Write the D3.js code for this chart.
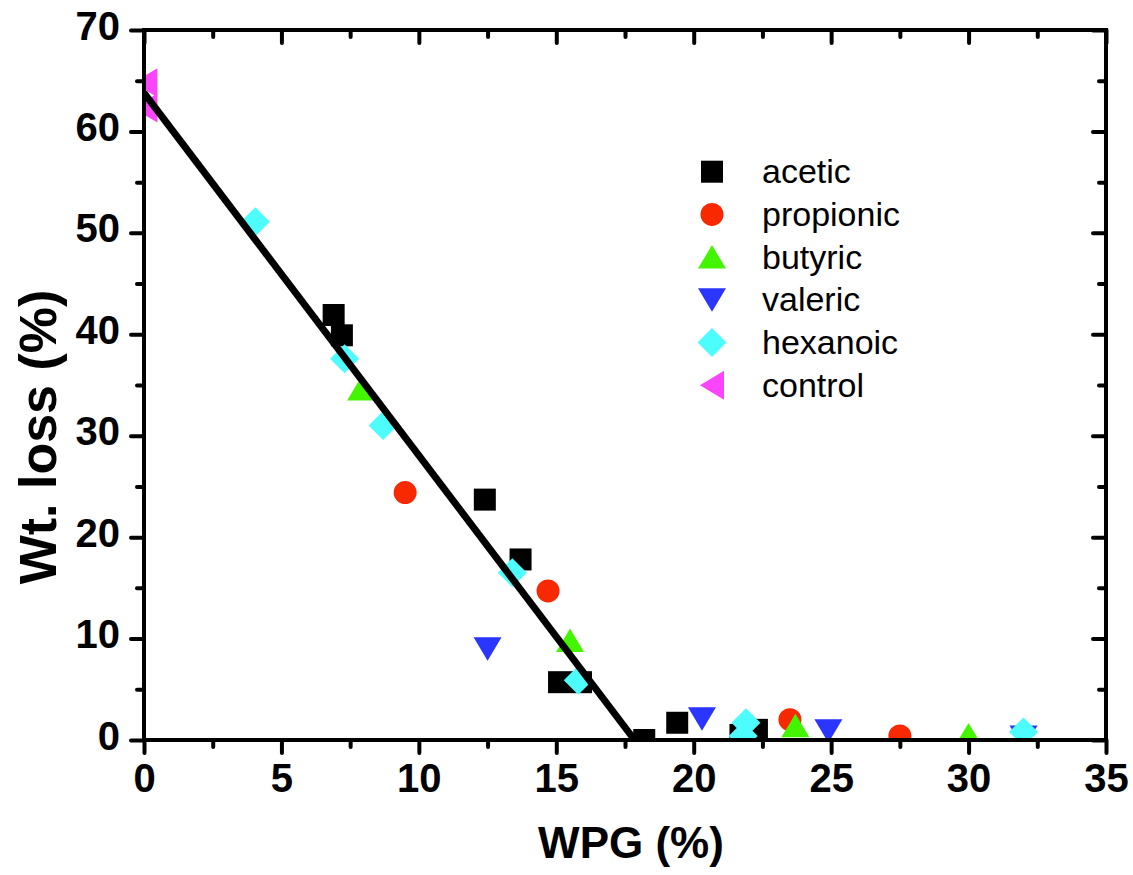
<!DOCTYPE html>
<html>
<head>
<meta charset="utf-8">
<script src="https://cdn.jsdelivr.net/npm/d3@7"></script>
<style>
  html, body { margin: 0; padding: 0; background: #fff; }
  svg { display: block; }
</style>
</head>
<body>
<svg id="chart" width="1133" height="875"></svg>
<script>
// ---------- data ----------
const xMajorTicks = [0, 5, 10, 15, 20, 25, 30, 35];
const xMinorTicks = [2.5, 7.5, 12.5, 17.5, 22.5, 27.5, 32.5];
const yMajorTicks = [0, 10, 20, 30, 40, 50, 60, 70];
const yMinorTicks = [5, 15, 25, 35, 45, 55, 65];
const xTickLabels = ["0", "5", "10", "15", "20", "25", "30", "35"];
const yTickLabels = ["0", "10", "20", "30", "40", "50", "60", "70"];

const seriesNames = ["acetic", "propionic", "butyric", "valeric", "hexanoic", "control"];
const seriesColors = ["#000000", "#f82800", "#44f500", "#2a35ff", "#4dfdfd", "#fa45fa"];
const seriesShapes = ["square", "circle", "triUp", "triDown", "diamond", "triLeft"];

const acetic = [[6.9, 41.9], [7.2, 39.9], [12.4, 23.7], [13.7, 17.8], [15.1, 5.7], [15.9, 5.7],
                [18.2, 0.0], [19.4, 1.7], [21.7, 0.5], [22.3, 1.0]];
const propionic = [[9.5, 24.4], [14.7, 14.7], [23.5, 2.0], [27.5, 0.4]];
const butyric = [[7.9, 34.6], [15.5, 9.8], [23.7, 1.4], [30.0, 0.5]];
const valeric = [[12.5, 9.0], [20.3, 2.1], [24.9, 0.9], [32.0, 0.3]];
const hexanoic = [[4.05, 51.1], [7.3, 37.6], [8.7, 31.0], [13.4, 16.5], [15.8, 5.9],
                  [21.8, 0.4], [21.9, 1.7], [32.0, 0.8]];
const control = [[0.05, 64.8], [0.05, 62.3]];
const fitLine = [[0, 63.8], [17.85, 0]];

const seriesData = [acetic, propionic, butyric, valeric, hexanoic, control];

// ---------- layout ----------
const svg = d3.select("#chart");
const x = d3.scaleLinear().domain([0, 35]).range([144, 1106]);
const y = d3.scaleLinear().domain([0, 70]).range([740, 30]);

function shapePath(shape) {
  switch (shape) {
    case "square": return "M-11,-11H11V11H-11Z";
    case "circle": return "M-11.5,0A11.5,11.5 0 1,0 11.5,0A11.5,11.5 0 1,0 -11.5,0Z";
    case "triUp": return "M0,-12L14,11.5H-14Z";
    case "triDown": return "M0,12L14,-11.5H-14Z";
    case "diamond": return "M0,-14.5L14.5,0L0,14.5L-14.5,0Z";
    case "triLeft": return "M-12,0L12,-14.5V14.5Z";
  }
}

svg.append("defs").append("clipPath").attr("id", "plotClip")
  .append("rect")
  .attr("x", x(0)).attr("y", y(70))
  .attr("width", x(35) - x(0)).attr("height", y(0) - y(70));

const plot = svg.append("g").attr("clip-path", "url(#plotClip)");

seriesData.forEach((data, i) => {
  plot.append("g").selectAll("path")
    .data(data)
    .join("path")
    .attr("d", shapePath(seriesShapes[i]))
    .attr("transform", d => `translate(${x(d[0])},${y(d[1])})`)
    .attr("fill", seriesColors[i]);
});

plot.append("path")
  .datum(fitLine)
  .attr("d", d3.line().x(d => x(d[0])).y(d => y(d[1])))
  .attr("fill", "none")
  .attr("stroke", "#000")
  .attr("stroke-width", 7);

// ---------- axes ----------
const tickFont = "'Liberation Sans', Arial, Helvetica, sans-serif";

function styleAxis(g) {
  g.select(".domain").remove();
  g.selectAll(".tick line").attr("stroke", "#000").attr("stroke-width", 4).attr("stroke-linecap", "round");
}

// bottom
svg.append("g").attr("transform", `translate(0,${y(0)})`)
  .call(d3.axisBottom(x).tickValues(xMinorTicks).tickSize(7).tickFormat(""))
  .call(styleAxis);
const bottom = svg.append("g").attr("transform", `translate(0,${y(0)})`)
  .call(d3.axisBottom(x).tickValues(xMajorTicks).tickSize(13)
        .tickFormat((d, i) => xTickLabels[i]))
  .call(styleAxis);
bottom.selectAll(".tick text")
  .attr("y", 52).attr("dy", null)
  .attr("font-family", tickFont).attr("font-weight", "bold").attr("font-size", 40)
  .attr("fill", "#000");

// top (inward)
svg.append("g").attr("transform", `translate(0,${y(70)})`)
  .call(d3.axisBottom(x).tickValues(xMinorTicks).tickSize(7).tickFormat(""))
  .call(styleAxis);
svg.append("g").attr("transform", `translate(0,${y(70)})`)
  .call(d3.axisBottom(x).tickValues(xMajorTicks).tickSize(13).tickFormat(""))
  .call(styleAxis);

// left
svg.append("g").attr("transform", `translate(${x(0)},0)`)
  .call(d3.axisLeft(y).tickValues(yMinorTicks).tickSize(7).tickFormat(""))
  .call(styleAxis);
const left = svg.append("g").attr("transform", `translate(${x(0)},0)`)
  .call(d3.axisLeft(y).tickValues(yMajorTicks).tickSize(13)
        .tickFormat((d, i) => yTickLabels[i]))
  .call(styleAxis);
left.selectAll(".tick text")
  .attr("x", -24).attr("y", 9).attr("dy", null)
  .attr("font-family", tickFont).attr("font-weight", "bold").attr("font-size", 40)
  .attr("fill", "#000");

// right (inward)
svg.append("g").attr("transform", `translate(${x(35)},0)`)
  .call(d3.axisLeft(y).tickValues(yMinorTicks).tickSize(7).tickFormat(""))
  .call(styleAxis);
svg.append("g").attr("transform", `translate(${x(35)},0)`)
  .call(d3.axisLeft(y).tickValues(yMajorTicks).tickSize(13).tickFormat(""))
  .call(styleAxis);

// frame
svg.append("rect")
  .attr("x", x(0)).attr("y", y(70))
  .attr("width", x(35) - x(0)).attr("height", y(0) - y(70))
  .attr("fill", "none").attr("stroke", "#000").attr("stroke-width", 4);

// ---------- titles ----------
svg.append("text")
  .attr("x", (x(0) + x(35)) / 2 + 6).attr("y", 858)
  .attr("text-anchor", "middle")
  .attr("font-family", tickFont).attr("font-weight", "bold").attr("font-size", 44)
  .text("WPG (%)");

svg.append("text")
  .attr("transform", "translate(56,437) rotate(-90)")
  .attr("text-anchor", "middle")
  .attr("font-family", tickFont).attr("font-weight", "bold").attr("font-size", 52)
  .text("Wt. loss (%)");

// ---------- legend ----------
const legend = svg.append("g");
const legendRows = legend.selectAll("g")
  .data(seriesNames)
  .join("g")
  .attr("transform", (d, i) => `translate(712,${171.7 + i * 42.7})`);
legendRows.append("path")
  .attr("d", (d, i) => shapePath(seriesShapes[i]))
  .attr("fill", (d, i) => seriesColors[i]);
legendRows.append("text")
  .attr("x", 50).attr("y", 11.5)
  .attr("font-family", tickFont).attr("font-size", 34)
  .attr("fill", "#000")
  .text(d => d);
</script>
</body>
</html>
